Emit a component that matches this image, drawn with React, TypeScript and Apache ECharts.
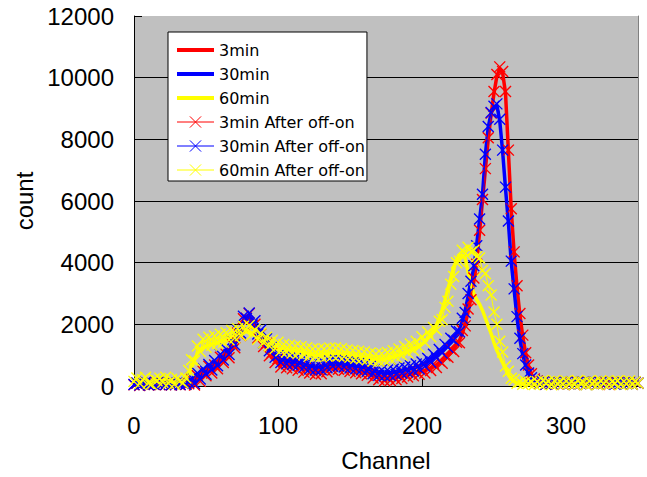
import React, { useEffect, useRef } from "react";
import * as echarts from "echarts";

// samples every 2 channels, channel 0..350
const CHANNEL_STEP = 2;

const red3min = [
  30, 30, 30, 30, 30, 30, 30, 30, 30, 30,
  30, 30, 30, 30, 30, 30, 30, 30, 30, 40,
  80, 140, 210, 280, 350, 420, 480, 540, 620, 700,
  780, 870, 970, 1080, 1220, 1380, 1550, 1780, 2050, 2280,
  2220, 2080, 1900, 1720, 1550, 1400, 1250, 1120, 1000, 880,
  780, 730, 700, 690, 680, 670, 650, 620, 590, 560,
  530, 500, 480, 470, 470, 480, 510, 550, 590, 610,
  620, 620, 610, 590, 570, 550, 530, 510, 490, 470,
  450, 420, 380, 340, 300, 270, 250, 240, 240, 250,
  260, 280, 300, 320, 340, 360, 380, 400, 420, 450,
  470, 500, 540, 580, 630, 680, 740, 820, 910, 1000,
  1100, 1200, 1320, 1480, 1700, 2000, 2400, 2850, 3400, 4000,
  5000, 6000, 7000, 8000, 8800, 9500, 10050, 10300, 10150, 9500,
  7600, 5700, 4300, 3200, 2300, 1600, 1050, 650, 380, 220,
  150, 120, 110, 100, 100, 100, 100, 100, 100, 100,
  100, 100, 100, 100, 100, 100, 100, 100, 100, 100,
  100, 100, 100, 100, 100, 100, 100, 100, 100, 100,
  100, 100, 100, 100, 100, 100,
];

const blue30min = [
  30, 30, 30, 30, 30, 30, 30, 30, 30, 30,
  30, 30, 30, 30, 30, 30, 30, 30, 30, 60,
  120, 200, 280, 360, 430, 500, 570, 640, 720, 800,
  880, 970, 1070, 1180, 1320, 1480, 1650, 1870, 2100, 2250,
  2220, 2120, 1980, 1830, 1680, 1540, 1400, 1270, 1150, 1040,
  900, 850, 830, 810, 800, 790, 780, 760, 730, 700,
  670, 640, 620, 610, 610, 620, 650, 680, 710, 730,
  740, 740, 730, 710, 690, 670, 660, 650, 640, 620,
  600, 570, 530, 490, 460, 440, 430, 420, 420, 430,
  440, 460, 480, 500, 520, 540, 560, 580, 610, 640,
  680, 730, 790, 860, 930, 1000, 1080, 1160, 1250, 1350,
  1450, 1560, 1680, 1850, 2100, 2450, 2900, 3450, 3800, 4600,
  5400, 6200, 7500, 8400, 8850, 9050, 9100, 8600, 7600, 6400,
  5300, 4000, 3100, 2200, 1500, 1000, 650, 400, 250, 180,
  140, 120, 110, 110, 110, 110, 110, 110, 110, 110,
  110, 110, 110, 110, 110, 110, 110, 110, 110, 110,
  110, 110, 110, 110, 110, 110, 110, 110, 110, 110,
  110, 110, 110, 110, 110, 110,
];

const yellow60min = [
  110, 110, 110, 110, 110, 110, 110, 110, 110, 110,
  110, 110, 110, 110, 110, 110, 110, 110, 150, 350,
  600, 850, 1050, 1180, 1250, 1290, 1320, 1350, 1380, 1400,
  1430, 1460, 1500, 1540, 1580, 1620, 1660, 1700, 1740, 1770,
  1750, 1700, 1630, 1560, 1490, 1430, 1380, 1330, 1290, 1250,
  1210, 1180, 1160, 1140, 1130, 1120, 1110, 1100, 1080, 1060,
  1040, 1020, 1000, 990, 990, 990, 1000, 1010, 1020, 1030,
  1030, 1020, 1010, 990, 970, 960, 950, 940, 930, 920,
  910, 890, 870, 850, 840, 840, 850, 870, 890, 910,
  940, 970, 1000, 1040, 1080, 1120, 1160, 1200, 1250, 1300,
  1360, 1440, 1540, 1660, 1800, 1980, 2200, 2480, 2800, 3150,
  3500, 3850, 4100, 4230, 4250, 4150, 3700, 3300, 3000, 2800,
  2650, 2450, 2200, 1950, 1700, 1400, 1150, 950, 750, 550,
  350, 220, 140, 100, 90, 90, 90, 90, 90, 90,
  90, 90, 90, 90, 90, 90, 90, 90, 90, 90,
  90, 90, 90, 90, 90, 90, 90, 90, 90, 90,
  90, 90, 90, 90, 90, 90, 90, 90, 90, 90,
  90, 90, 90, 90, 90, 90,
];

const red3minAfter = [
  40, 90, 20, 70, 110, 30, 80, 50, 100, 40,
  80, 40, 100, 30, 70, 90, 40, 80, 50, 70,
  200, 30, 330, 150, 480, 330, 640, 420, 680, 560,
  930, 760, 1030, 920, 1360, 1240, 1720, 1640, 2180, 2200,
  2350, 1950, 2000, 1560, 1690, 1280, 1390, 980, 1090, 760,
  880, 620, 780, 590, 760, 560, 730, 510, 660, 450,
  610, 420, 550, 380, 540, 400, 580, 460, 660, 520,
  700, 540, 680, 510, 640, 470, 600, 430, 560, 400,
  520, 350, 440, 260, 370, 200, 320, 170, 300, 180,
  330, 200, 370, 240, 410, 290, 450, 330, 490, 380,
  550, 420, 620, 500, 710, 600, 820, 740, 980, 930,
  1200, 1120, 1420, 1400, 1800, 1950, 2500, 2800, 3500, 3950,
  5050, 6050, 7050, 8050, 8850, 9550, 10100, 10350, 10200, 9550,
  7650, 5750, 4350, 3250, 2350, 1650, 1080, 680, 400, 230,
  160, 90, 140, 60, 120, 80, 150, 70, 110, 60,
  130, 70, 120, 50, 140, 80, 110, 60, 130, 90,
  120, 60, 140, 80, 100, 50, 130, 90, 110, 70,
  120, 80, 140, 60, 110, 90,
];

const blue30minAfter = [
  50, 100, 30, 80, 120, 40, 90, 60, 110, 50,
  90, 50, 110, 40, 80, 100, 50, 90, 60, 110,
  270, 80, 420, 230, 560, 380, 700, 520, 830, 660,
  1030, 840, 1200, 1020, 1470, 1330, 1820, 1720, 2260, 2190,
  2370, 1980, 2120, 1690, 1820, 1400, 1530, 1140, 1270, 930,
  1000, 760, 930, 720, 900, 700, 880, 670, 830, 610,
  770, 550, 720, 520, 710, 530, 750, 590, 810, 640,
  840, 650, 830, 620, 790, 580, 760, 560, 740, 530,
  700, 480, 630, 400, 560, 350, 530, 330, 520, 340,
  540, 370, 580, 410, 620, 450, 660, 490, 710, 550,
  780, 640, 890, 770, 1030, 910, 1180, 1070, 1350, 1260,
  1550, 1480, 1780, 1760, 2200, 2380, 3000, 3400, 3900, 4550,
  5420, 6220, 7520, 8420, 8870, 9070, 9150, 8650, 7650, 6450,
  5350, 4050, 3150, 2250, 1550, 1050, 680, 420, 270, 180,
  150, 80, 130, 60, 120, 70, 140, 90, 110, 60,
  120, 70, 140, 60, 110, 80, 130, 50, 120, 90,
  130, 60, 110, 80, 140, 70, 120, 60, 100, 80,
  110, 70, 130, 60, 120, 90,
];

const yellow60minAfter = [
  150, 260, 80, 200, 280, 100, 60, 230, 170, 250,
  120, 280, 90, 210, 60, 240, 170, 100, 260, 500,
  850, 820, 1300, 1120, 1520, 1260, 1580, 1320, 1620, 1380,
  1680, 1420, 1730, 1500, 1800, 1560, 1860, 1640, 1940, 1760,
  1960, 1680, 1830, 1520, 1700, 1400, 1580, 1300, 1480, 1220,
  1420, 1140, 1350, 1100, 1320, 1080, 1300, 1060, 1270, 1020,
  1240, 980, 1200, 950, 1190, 960, 1200, 970, 1230, 990,
  1230, 980, 1210, 960, 1170, 930, 1150, 900, 1130, 880,
  1110, 850, 1070, 810, 1040, 800, 1050, 830, 1090, 870,
  1140, 930, 1200, 1000, 1280, 1080, 1360, 1160, 1450, 1260,
  1600, 1420, 1750, 1600, 1900, 1820, 2100, 2150, 2550, 2750,
  3300, 3550, 4000, 4050, 4400, 4300, 4500, 4350, 4400, 4200,
  4150, 3750, 3650, 3250, 2950, 2400, 2000, 1450, 1100, 650,
  480, 250, 200, 90, 130, 60, 150, 80, 120, 50,
  140, 60, 180, 90, 150, 40, 170, 80, 130, 60,
  160, 70, 140, 50, 180, 90, 120, 40, 160, 80,
  130, 50, 170, 80, 150, 60, 140, 90, 170, 50,
  150, 70, 160, 60, 140, 90,
];

const seriesNames = [
  "3min",
  "30min",
  "60min",
  "3min After off-on",
  "30min After off-on",
  "60min After off-on",
];
const seriesColors = ["#ff0000", "#0000ff", "#ffff00", "#ff0000", "#0000ff", "#ffff00"];

const X_MARK = "path://M0,0L10,10M10,0L0,10";

const toPairs = (vals: number[]) => vals.map((v, i) => [i * CHANNEL_STEP, v]);

export default function App() {
  const ref = useRef<HTMLDivElement>(null);

  useEffect(() => {
    if (!ref.current) return;
    const chart = echarts.init(ref.current, undefined, { renderer: "svg" });
    const allData = [red3min, blue30min, yellow60min, red3minAfter, blue30minAfter, yellow60minAfter];
    const axisFont = { fontFamily: "Liberation Sans, Arial, sans-serif", fontSize: 24, color: "#000" };

    const series = allData.map((vals, k) => {
      const marked = k >= 3;
      return {
        name: seriesNames[k],
        type: "line",
        data: toPairs(vals),
        color: seriesColors[k],
        symbol: marked ? X_MARK : "none",
        symbolSize: 11,
        showSymbol: marked,
        lineStyle: { color: seriesColors[k], width: marked ? 1 : 3.5 },
        itemStyle: marked
          ? { color: seriesColors[k], borderColor: seriesColors[k], borderWidth: 1.4 }
          : { color: seriesColors[k] },
        clip: false,
        z: 2 + k,
      };
    });

    chart.setOption({
      animation: false,
      backgroundColor: "#ffffff",
      grid: {
        left: 134,
        right: 9,
        top: 16,
        bottom: 86,
        show: true,
        backgroundColor: "#c0c0c0",
        borderWidth: 0,
      },
      legend: {
        orient: "vertical",
        left: 168,
        top: 32,
        padding: [10, 2, 3, 7],
        itemGap: 8,
        itemWidth: 37,
        itemHeight: 14,
        backgroundColor: "#ffffff",
        borderColor: "#000000",
        borderWidth: 1,
        borderRadius: 0,
        textStyle: { fontFamily: "DejaVu Sans", fontSize: 16, color: "#000" },
        data: seriesNames.map((n, k) =>
          k < 3
            ? { name: n, itemStyle: { opacity: 0 }, lineStyle: { width: 4 } }
            : { name: n, itemStyle: { borderWidth: 1 }, lineStyle: { width: 1 } }
        ),
      },
      xAxis: {
        type: "value",
        min: 0,
        max: 350,
        interval: 100,
        name: "Channel",
        nameLocation: "middle",
        nameGap: 62,
        nameTextStyle: axisFont,
        axisLine: { show: true, lineStyle: { color: "#000", width: 1 } },
        axisTick: { show: true, inside: true, length: 7, lineStyle: { color: "#000" } },
        axisLabel: { ...axisFont, margin: 27, showMaxLabel: false },
        splitLine: { show: false },
      },
      yAxis: [
        {
          type: "value",
          min: 0,
          max: 12000,
          interval: 2000,
          name: "count",
          nameLocation: "middle",
          nameGap: 98,
          nameTextStyle: axisFont,
          axisLine: { show: true, lineStyle: { color: "#000", width: 1 } },
          axisTick: { show: true, inside: true, length: 8, lineStyle: { color: "#000" } },
          axisLabel: { ...axisFont, margin: 20, padding: [5, 0, 0, 0], formatter: (v: number) => String(v) },
          splitLine: { show: true, showMaxLine: false, showMinLine: false, lineStyle: { color: "#000", width: 1 } },
        },
        {
          type: "value",
          position: "right",
          min: 0,
          max: 12000,
          interval: 2000,
          axisLine: { show: true, lineStyle: { color: "#808080", width: 1 } },
          axisTick: { show: false },
          axisLabel: { show: false },
          splitLine: { show: false },
        },
      ],
      series,
    });
    return () => chart.dispose();
  }, []);

  return (
    <div
      ref={ref}
      style={{ position: "absolute", left: 0, top: 0, width: 647, height: 477 }}
    />
  );
}
